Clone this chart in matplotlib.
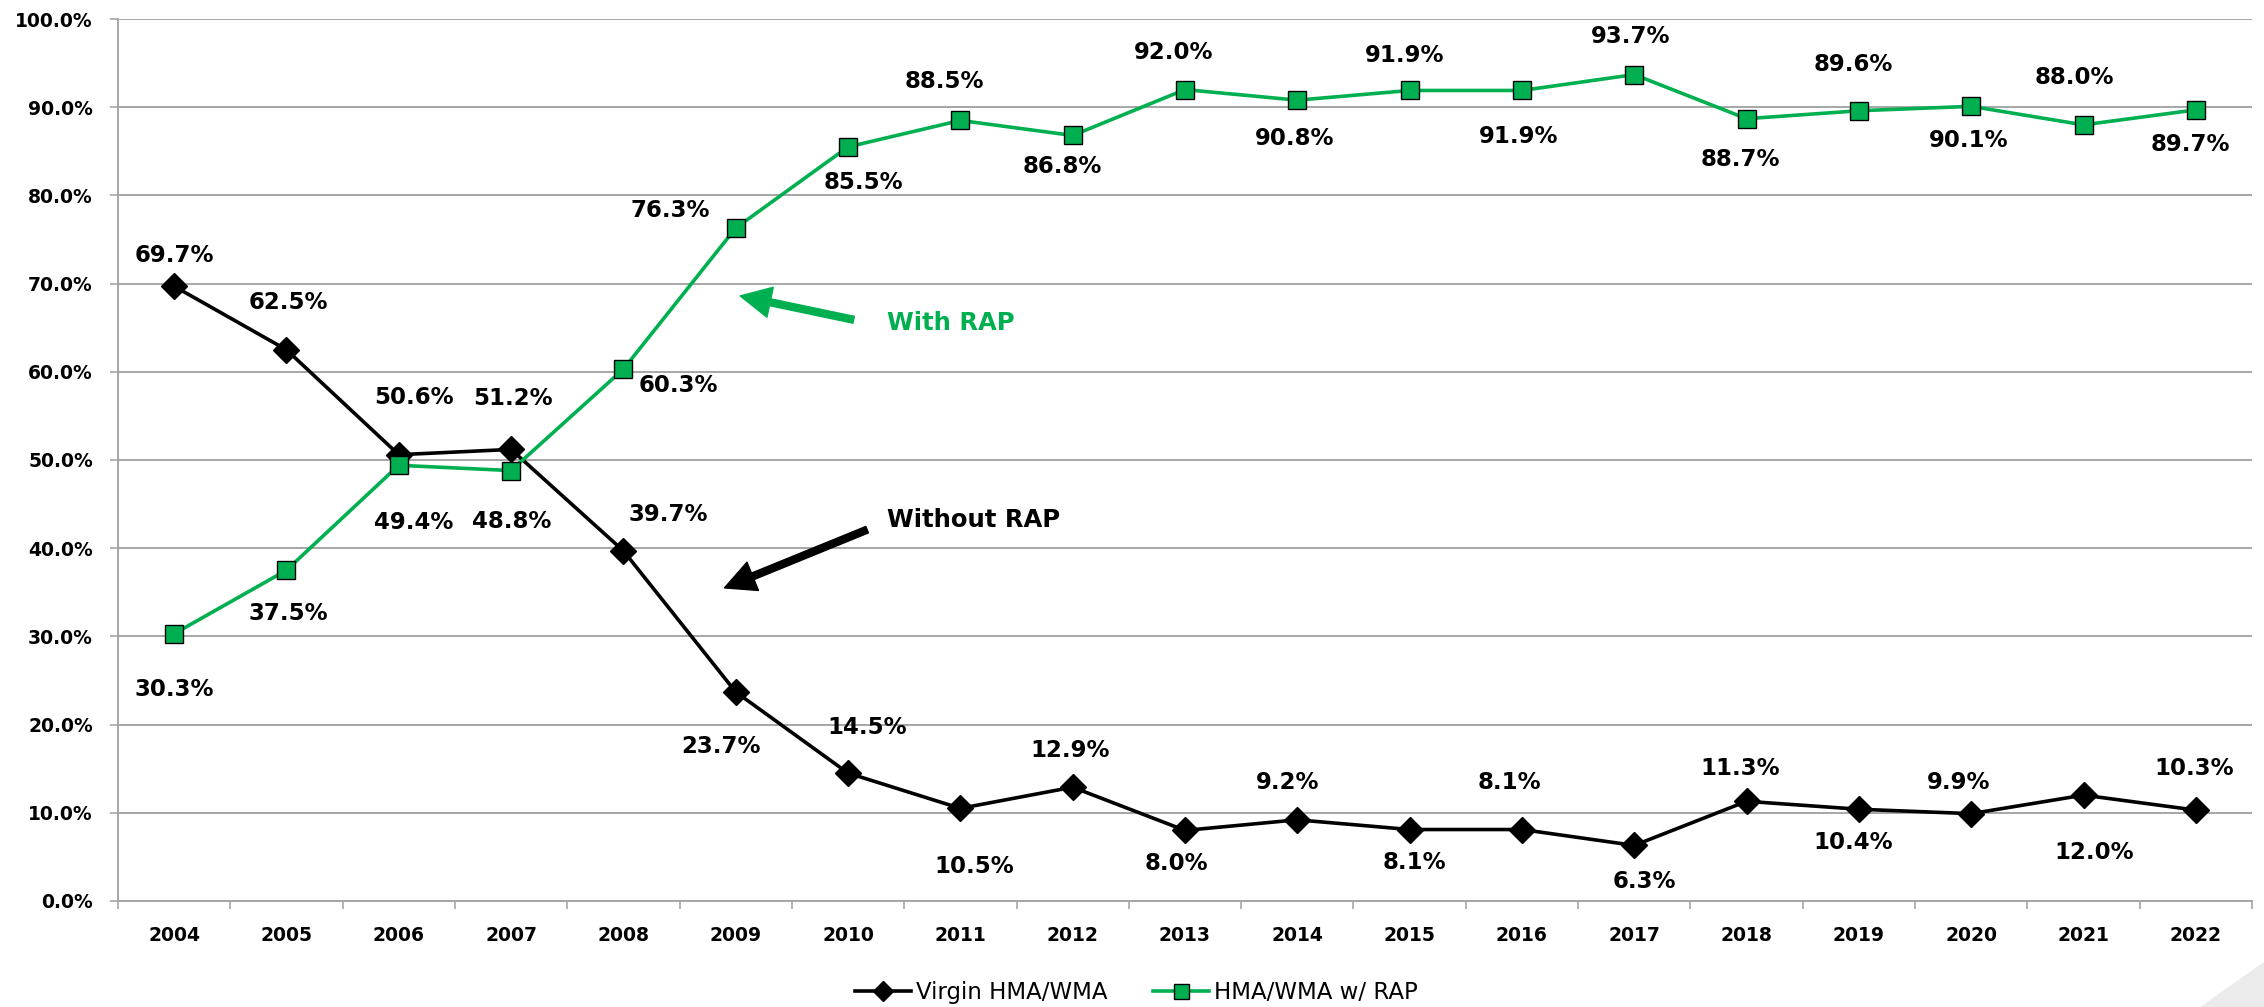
import matplotlib
matplotlib.use('Agg')
import matplotlib.pyplot as plt
from matplotlib.patches import FancyArrowPatch, Polygon

plt.rcParams['font.family'] = ['DejaVu Sans']

years = ['2004', '2005', '2006', '2007', '2008', '2009', '2010', '2011', '2012', '2013',
         '2014', '2015', '2016', '2017', '2018', '2019', '2020', '2021', '2022']
virgin = [69.7, 62.5, 50.6, 51.2, 39.7, 23.7, 14.5, 10.5, 12.9, 8.0,
          9.2, 8.1, 8.1, 6.3, 11.3, 10.4, 9.9, 12.0, 10.3]
with_rap = [30.3, 37.5, 49.4, 48.8, 60.3, 76.3, 85.5, 88.5, 86.8, 92.0,
            90.8, 91.9, 91.9, 93.7, 88.7, 89.6, 90.1, 88.0, 89.7]

# label placement (pixels, up positive)
virgin_dx = [0, 2, 15, 2, 45, -15, 19, 14, -3, -9, -10, 5, -12, 10, -6, -6, -13, 11, -2]
virgin_dy = [31, 47, 57, 51, 36, -55, 46, -58, 37, -33, 37, -33, 47, -36, 33, -33, 31, -57, 42]
rap_dx = [0, 2, 15, 1, 55, -65, 15, -16, -10, -11, -3, -5, -3, -4, -6, -6, -3, -9, -5]
rap_dy = [-56, -43, -57, -51, -16, 18, -36, 39, -31, 37, -38, 35, -46, 38, -41, 46, -34, 47, -35]

GREEN = '#00B050'
GRID = '#A6A6A6'

fig = plt.figure(figsize=(22.64, 10.07), dpi=100)
ax = fig.add_axes([0.0521, 0.1053, 0.9426, 0.8758])

x = list(range(len(years)))
ax.plot(x, virgin, color='black', lw=2.6, marker='D', ms=13,
        mfc='black', mec='black', label='Virgin HMA/WMA', zorder=3)
ax.plot(x, with_rap, color=GREEN, lw=2.6, marker='s', ms=13.5,
        mfc=GREEN, mec='black', mew=1.0, label='HMA/WMA w/ RAP', zorder=4)

for i in x:
    ax.annotate(f'{virgin[i]:.1f}%', (i, virgin[i]), xytext=(virgin_dx[i], virgin_dy[i]),
                textcoords='offset pixels', ha='center', va='center',
                fontsize=16.5, fontweight='bold', color='black', zorder=5)
    ax.annotate(f'{with_rap[i]:.1f}%', (i, with_rap[i]), xytext=(rap_dx[i], rap_dy[i]),
                textcoords='offset pixels', ha='center', va='center',
                fontsize=16.5, fontweight='bold', color='black', zorder=5)

ax.set_xlim(-0.5, len(years) - 0.5)
ax.set_ylim(0, 100)
ax.set_yticks(range(0, 101, 10))
ax.set_yticklabels([f'{v:.1f}%' for v in range(0, 101, 10)])
ax.set_xticks(x)
ax.set_xticklabels(years)
ax.set_xticks([i - 0.5 for i in range(len(years) + 1)], minor=True)

ax.tick_params(axis='x', which='major', length=0, pad=18, labelsize=13.5)
ax.tick_params(axis='x', which='minor', length=6, width=1.2, color=GRID, direction='out')
ax.tick_params(axis='y', length=6, width=1.2, color=GRID, pad=12, labelsize=13.5)
for lab in ax.get_xticklabels() + ax.get_yticklabels():
    lab.set_fontweight('bold')

ax.grid(axis='y', color=GRID, lw=1.4)
ax.set_axisbelow(True)
for side in ['top', 'right']:
    ax.spines[side].set_visible(False)
for side in ['left', 'bottom']:
    ax.spines[side].set_color(GRID)
    ax.spines[side].set_linewidth(1.4)

# annotations
ax.add_patch(FancyArrowPatch((6.05, 65.9), (5.04, 68.6), arrowstyle='simple,head_width=2.2,head_length=2.2,tail_width=0.5',
                             mutation_scale=10, color=GREEN, shrinkA=0, shrinkB=0, zorder=6))
ax.add_patch(FancyArrowPatch((6.17, 42.1), (4.90, 35.5), arrowstyle='simple,head_width=2.2,head_length=2.2,tail_width=0.5',
                             mutation_scale=10, color='black', shrinkA=0, shrinkB=0, zorder=6))
ax.text(6.35, 65.5, 'With RAP', color=GREEN, fontsize=17.5, fontweight='bold', ha='left', va='center')
ax.text(6.35, 43.2, 'Without RAP', color='black', fontsize=17.5, fontweight='bold', ha='left', va='center')

fig.legend(loc='center', bbox_to_anchor=(0.502, 0.014), ncol=2, frameon=False,
           fontsize=16.5, handlelength=2.45, handletextpad=0.2, columnspacing=2.0, markerscale=0.8)

# slide corner decoration
fig.patches.append(Polygon([(2200 / 2264, 0), (1, 45 / 1007), (1, 0)], closed=True,
                           transform=fig.transFigure, facecolor='#EBEBEB', edgecolor='none'))

fig.savefig('out.png', dpi=100)
